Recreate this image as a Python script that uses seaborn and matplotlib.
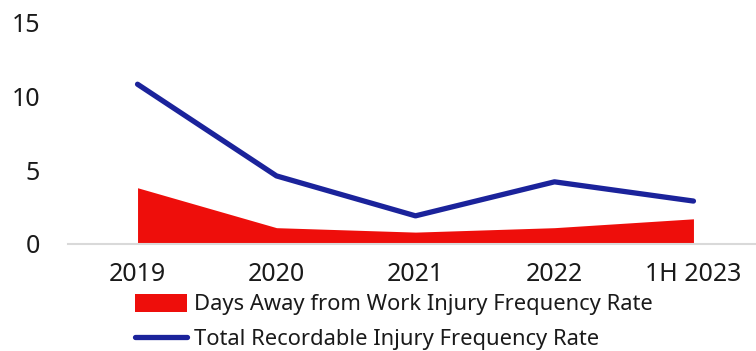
import matplotlib
matplotlib.use("Agg")
import matplotlib.pyplot as plt
import seaborn as sns
import pandas as pd
from matplotlib.patches import Patch
from matplotlib.lines import Line2D

periods = ["2019", "2020", "2021", "2022", "1H 2023"]
days_away_rate = [3.8, 1.1, 0.8, 1.1, 1.7]
total_recordable_rate = [10.8, 4.6, 1.9, 4.2, 2.9]
y_ticks = [0, 5, 10, 15]

area_label = "Days Away from Work Injury Frequency Rate"
line_label = "Total Recordable Injury Frequency Rate"

red = "#EE0E0B"
blue = "#1B239B"
text_color = "#1a1a1a"

sns.set_theme(style="white")
plt.rcParams["font.family"] = ["Noto Sans", "DejaVu Sans"]

df = pd.DataFrame({
    "pos": range(len(periods)),
    "period": periods,
    "days_away": days_away_rate,
    "total": total_recordable_rate,
})

fig = plt.figure(figsize=(7.56, 3.51), dpi=100)
ax = fig.add_axes([0.09, 0.305, 0.91, 0.632])

ax.fill_between(df["pos"], 0, df["days_away"], color=red, linewidth=0, zorder=2)
sns.lineplot(data=df, x="pos", y="total", color=blue, linewidth=3.8,
             solid_capstyle="round", solid_joinstyle="round", ax=ax, zorder=3)

ax.set_xlim(-0.5, 4.45)
ax.set_ylim(0, 15)
ax.set_yticks(y_ticks)
ax.set_yticklabels([str(v) for v in y_ticks])
ax.set_xticks(df["pos"])
ax.set_xticklabels(periods)
ax.set_xlabel("")
ax.set_ylabel("")

for side in ["top", "right", "left"]:
    ax.spines[side].set_visible(False)
ax.spines["bottom"].set_color("#D9D9D9")
ax.spines["bottom"].set_linewidth(1.5)

ax.tick_params(axis="x", length=0, pad=13, labelsize=18, colors=text_color)
ax.tick_params(axis="y", length=0, pad=20, labelsize=18, colors=text_color)

handles = [
    Patch(facecolor=red, edgecolor="none"),
    Line2D([0], [0], color=blue, linewidth=3.8, solid_capstyle="round"),
]
fig.legend(handles, [area_label, line_label], loc="upper left",
           bbox_to_anchor=(0.178, 0.162), frameon=False, fontsize=15.8,
           handlelength=2.4, handleheight=0.85, handletextpad=0.3,
           labelspacing=0.62, borderaxespad=0, borderpad=0,
           labelcolor=text_color)

fig.savefig("out.png", dpi=100)
